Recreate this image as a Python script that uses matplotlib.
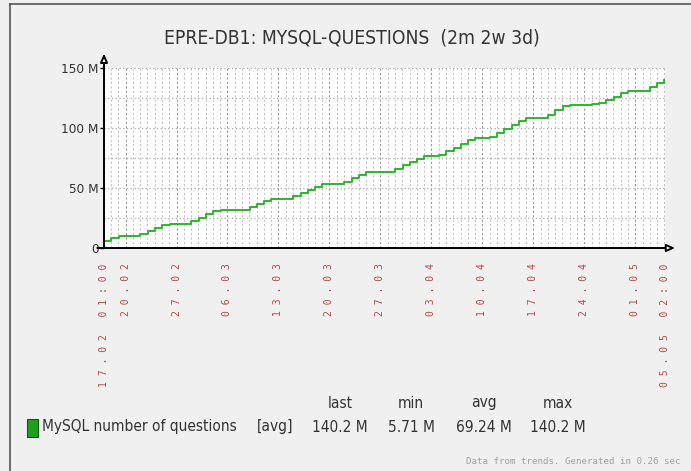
import os
import pandas as pd
import matplotlib
matplotlib.use('Agg')
import matplotlib.pyplot as plt
import matplotlib.font_manager as fm
from matplotlib.patches import Rectangle
from matplotlib.lines import Line2D

# time range of the graph
t_start = pd.Timestamp('2010-02-17 01:00')
t_end = pd.Timestamp('2010-05-05 02:00')

# daily trend samples, millions of questions
sample_times = list(pd.date_range(t_start, periods=77, freq='D')) + [pd.Timestamp('2010-05-04 21:30')]
questions_m = [5.71, 8.0, 10.0, 10.0, 10.0, 12.0, 14.5, 17.0, 19.5, 20.3, 20.3, 20.3,
               22.7, 25.3, 28.0, 30.7, 32.0, 32.0, 32.0, 32.0, 34.0, 36.8, 39.5, 41.0, 41.0, 41.0,
               43.1, 45.8, 48.5, 51.2, 53.0, 53.0, 53.0, 55.3, 58.2, 61.0, 63.6, 63.6, 63.6, 63.6,
               66.1, 68.9, 71.7, 74.5, 77.0, 77.0, 77.3, 80.5, 83.7, 86.9, 90.1, 92.0, 92.0,
               92.7, 96.0, 99.3, 102.7, 106.0, 108.0, 108.0, 108.0, 111.0, 114.6, 118.1,
               119.4, 119.4, 119.4, 119.6, 121.0, 123.6, 126.2, 128.8, 130.8, 130.8, 130.8,
               134.0, 137.5, 140.2]

tick_dates = ['2010-02-20', '2010-02-27', '2010-03-06', '2010-03-13', '2010-03-20', '2010-03-27',
              '2010-04-03', '2010-04-10', '2010-04-17', '2010-04-24', '2010-05-01']
tick_labels = ['20.02', '27.02', '06.03', '13.03', '20.03', '27.03',
               '03.04', '10.04', '17.04', '24.04', '01.05']
start_label = '17.02 01:00'
end_label = '05.05 02:00'

y_ticks = [0, 50, 100, 150]
y_labels = ['0', '50 M', '100 M', '150 M']
y_minor = [25, 75, 125]

title = 'EPRE-DB1: MYSQL-QUESTIONS  (2m 2w 3d)'
series_name = 'MySQL number of questions'
stat_names = ['last', 'min', 'avg', 'max']
stat_values = ['140.2 M', '5.71 M', '69.24 M', '140.2 M']
footer = 'Data from trends. Generated in 0.26 sec'

txt = '#333333'

# zabbix uses a condensed DejaVu; fall back to a narrow / normal sans if missing
cond_file = None
for f in fm.findSystemFonts():
    if os.path.basename(f) in ('DejaVuSansCondensed.ttf', 'LiberationSansNarrow-Regular.ttf'):
        cond_file = f
        if os.path.basename(f) == 'DejaVuSansCondensed.ttf':
            break


def cfont(size):
    if cond_file:
        return fm.FontProperties(fname=cond_file, size=size)
    return fm.FontProperties(family='DejaVu Sans', size=size * 0.9)


def spaced(s):
    return ' '.join(s)


fig = plt.figure(figsize=(6.91, 4.71), dpi=100, facecolor='#f0f0f0')
W, H = 691.0, 471.0
ax = fig.add_axes([104 / W, 1 - 248 / H, 561 / W, 180 / H])
ax.set_facecolor('white')

ax.plot(sample_times, questions_m, color='#2eb52e', lw=1.4, drawstyle='steps-post', zorder=3)

ax.set_xlim(t_start, t_end)
ax.set_ylim(0, 150)

major = [t_start] + [pd.Timestamp(d) for d in tick_dates] + [t_end]
ax.set_xticks(major)
ax.set_xticklabels([spaced(start_label)] + [spaced(l) for l in tick_labels] + [spaced(end_label)],
                   rotation=90, family='DejaVu Sans Mono', fontsize=7.0, color='#b04a4a')
ax.set_xticks(list(pd.date_range('2010-02-18', '2010-05-05', freq='D')), minor=True)
ax.tick_params(axis='x', which='both', length=0, pad=11)

ax.set_yticks(y_ticks)
ax.set_yticklabels(y_labels, color=txt, fontproperties=cfont(9.7))
ax.set_yticks(y_minor, minor=True)
ax.tick_params(axis='y', which='major', length=3, width=1, pad=1)
ax.tick_params(axis='y', which='minor', length=0)

ax.grid(True, axis='x', which='major', color='#999999', ls=(0, (2, 2)), lw=0.8)
ax.grid(True, axis='x', which='minor', color='#c4c4c4', ls=(0, (2, 2)), lw=0.8)
ax.grid(True, axis='y', which='both', color='#aaaaaa', ls=(0, (1, 2)), lw=0.9)
ax.set_axisbelow(True)

for s in ['top', 'right', 'left', 'bottom']:
    ax.spines[s].set_visible(False)

# axes with arrow heads
arr = dict(arrowstyle='-|>,head_length=0.5,head_width=0.22', fc='white', ec='black', lw=1.4,
           shrinkA=0, shrinkB=0)
ax.annotate('', xy=(0, 1.08), xytext=(0, 0), xycoords='axes fraction', arrowprops=arr,
            annotation_clip=False)
ax.annotate('', xy=(1.018, 0), xytext=(-0.012, 0), xycoords='axes fraction', arrowprops=arr,
            annotation_clip=False)

# frame lines of the image
fig.add_artist(Line2D([10 / W, 10 / W], [0, 1 - 4 / H], color='#555555', lw=1.2))
fig.add_artist(Line2D([10 / W, 1], [1 - 4 / H, 1 - 4 / H], color='#555555', lw=1.2))

fig.text(352 / W, 1 - 38 / H, title, ha='center', va='center', color=txt,
         fontproperties=cfont(13.8))

# legend
fig.add_artist(Rectangle((27 / W, 1 - 437 / H), 11 / W, 18 / H, facecolor='#1ea01e',
                         edgecolor='#115511', lw=0.8))
fig.text(42 / W, 1 - 427 / H, series_name, ha='left', va='center', color=txt,
         fontproperties=cfont(11.1))
fig.text(275 / W, 1 - 427 / H, '[avg]', ha='center', va='center', color=txt,
         fontproperties=cfont(11.1))
stat_x = [340, 411, 484, 558]
for x, n, v in zip(stat_x, stat_names, stat_values):
    fig.text(x / W, 1 - 403 / H, n, ha='center', va='center', color=txt, fontproperties=cfont(11.1))
    fig.text(x / W, 1 - 427 / H, v, ha='center', va='center', color=txt, fontproperties=cfont(11.1))

fig.text(680 / W, 1 - 462 / H, footer, ha='right', va='center', fontsize=6.6,
         family='DejaVu Sans Mono', color='#a0a0a0')

fig.savefig('out.png', dpi=100, facecolor=fig.get_facecolor())
